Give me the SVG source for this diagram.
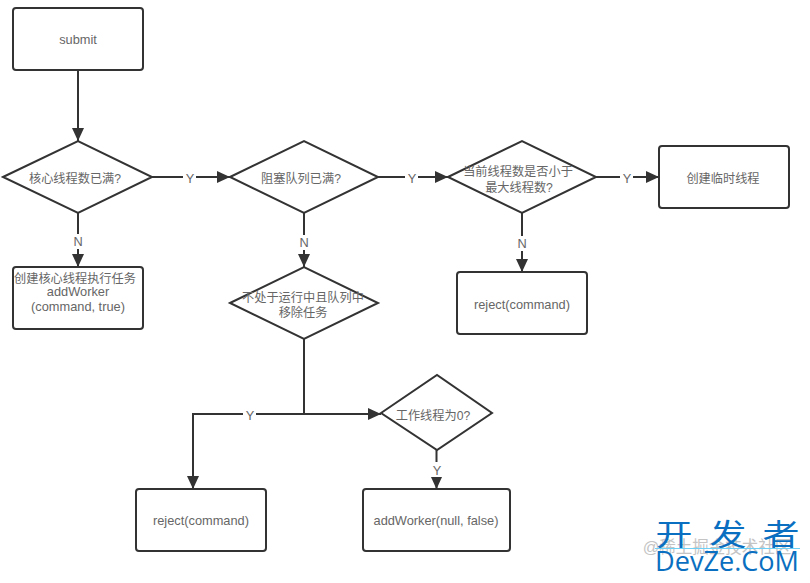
<svg xmlns="http://www.w3.org/2000/svg" width="810" height="583" viewBox="0 0 810 583">
<defs>
<marker id="arrow" markerUnits="userSpaceOnUse" markerWidth="14" markerHeight="14" refX="13" refY="6.5" orient="auto"><path d="M0,0.5 L13,6.5 L0,12.5 Z" fill="#333"/></marker>
</defs>
<style>
.box{fill:#fff;stroke:#333;stroke-width:2}
.c{fill:none;stroke:#333;stroke-width:2;marker-end:url(#arrow)}
.p{fill:none;stroke:#333;stroke-width:2}
text{font-family:"Liberation Sans","Noto Sans CJK SC",sans-serif;font-size:12.2px;fill:#666;text-anchor:middle}
.en{font-size:12.8px}
.lb{fill:#fff;stroke:none}
.wm{fill:#0a6fc0;font-size:37px}
.wm2{fill:#0a6fc0;font-family:"Open Sans",sans-serif;font-size:27px}
.wm3{fill:#c4c4c4;font-size:16.5px}
</style>
<rect width="810" height="583" fill="#fff"/>
<g id="connectors">
<path class="c" d="M78 70V141"/>
<path class="c" d="M152 177H230"/>
<path class="c" d="M378 177H448"/>
<path class="c" d="M596 177H659"/>
<path class="c" d="M78 213V267"/>
<path class="c" d="M304 213V267"/>
<path class="c" d="M522 213V272"/>
<path class="p" d="M304 339V414"/>
<path class="c" d="M304 414H381"/>
<path class="c" d="M304 414H193V489"/>
<path class="c" d="M436.500 450V489"/>
<rect class="lb" x="183" y="170" width="13" height="15"/><text class="en" x="190" y="183">Y</text>
<rect class="lb" x="405" y="170" width="13" height="15"/><text class="en" x="412" y="183">Y</text>
<rect class="lb" x="620" y="170" width="13" height="15"/><text class="en" x="627" y="183">Y</text>
<rect class="lb" x="71" y="234" width="14" height="15"/><text class="en" x="78" y="246">N</text>
<rect class="lb" x="297" y="235" width="14" height="15"/><text class="en" x="304" y="247">N</text>
<rect class="lb" x="515" y="236" width="14" height="15"/><text class="en" x="522" y="248">N</text>
<rect class="lb" x="243" y="408" width="13" height="15"/><text class="en" x="250" y="420">Y</text>
<rect class="lb" x="430" y="462" width="13" height="15"/><text class="en" x="437" y="475">Y</text>
</g>
<g id="submit"><rect class="box" x="13" y="8" width="130" height="62" rx="3"/><text class="en" x="78" y="44">submit</text></g>
<g id="core-full"><polygon class="box" points="3,177 78,141 152,177 78,213"/><text x="75" y="183">核心线程数已满?</text></g>
<g id="queue-full"><polygon class="box" points="230,177 304,141 378,177 304,213"/><text x="301" y="183">阻塞队列已满?</text></g>
<g id="max-check"><polygon class="box" points="448,177 522,141 596,177 522,213"/><text x="518" y="176">当前线程数是否小于</text><text x="519" y="192">最大线程数?</text></g>
<g id="create-temp"><rect class="box" x="659" y="146" width="130" height="62" rx="3"/><text x="723" y="183">创建临时线程</text></g>
<g id="create-core"><rect class="box" x="13" y="267" width="130" height="62" rx="3"/><text x="75" y="283">创建核心线程执行任务</text><text class="en" x="78" y="296">addWorker</text><text class="en" x="78" y="311">(command, true)</text></g>
<g id="remove-task"><polygon class="box" points="230,303 304,267 378,303 304,339"/><text x="303" y="302">不处于运行中且队列中</text><text x="303" y="317">移除任务</text></g>
<g id="reject-right"><rect class="box" x="457" y="272" width="130" height="62" rx="3"/><text class="en" x="522" y="309">reject(command)</text></g>
<g id="worker-zero"><polygon class="box" points="381,413 437,375 492,413 437,450"/><text x="433" y="420">工作线程为0?</text></g>
<g id="reject-left"><rect class="box" x="136" y="489" width="130" height="62" rx="3"/><text class="en" x="201" y="525">reject(command)</text></g>
<g id="add-worker"><rect class="box" x="363" y="489" width="147" height="62" rx="3"/><text class="en" x="436" y="525">addWorker(null, false)</text></g>
<g id="watermark">
<text x="717" y="553" class="wm3">@稀土掘金技术社区</text>
<text transform="translate(674 545) scale(1 .8)" x="0" y="0" class="wm">开</text>
<text transform="translate(728 545) scale(1 .8)" x="0" y="0" class="wm">发</text>
<text transform="translate(781 545) scale(1 .8)" x="0" y="0" class="wm">者</text>
<path d="M655 548.500H800" stroke="#6fd0f5" stroke-width="1" fill="none"/>
<text x="727" y="571" class="wm2" textLength="144" lengthAdjust="spacingAndGlyphs">DevZe.CoM</text>
</g>
</svg>
